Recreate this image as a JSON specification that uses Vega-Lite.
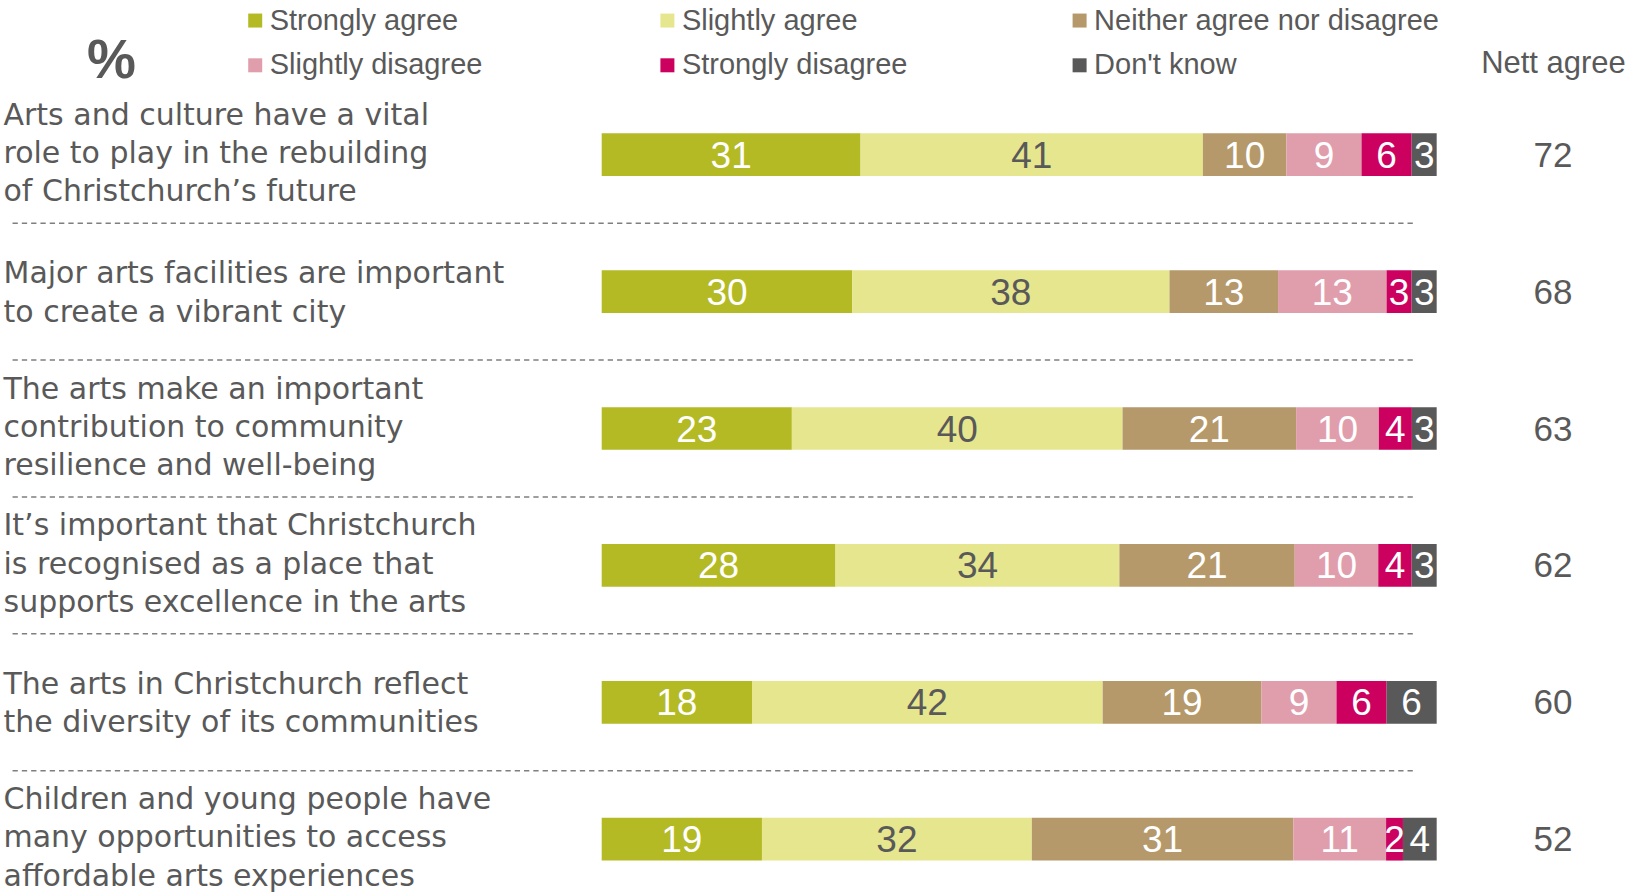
{
  "$schema": "https://vega.github.io/schema/vega-lite/v6.json",
  "width": 835,
  "height": 752.95,
  "autosize": {"type": "none"},
  "padding": {"left": 601.7, "top": 120.5, "right": 192.3, "bottom": 20.5},
  "background": "white",
  "config": {"font": "Liberation Sans", "view": {"stroke": null}, "axis": {"grid": false}},
  "datasets": {
    "bars": [
      {"statement": "Arts and culture have a vital|role to play in the rebuilding|of Christchurch’s future", "response": "Strongly agree", "pct": 31},
      {"statement": "Arts and culture have a vital|role to play in the rebuilding|of Christchurch’s future", "response": "Slightly agree", "pct": 41},
      {"statement": "Arts and culture have a vital|role to play in the rebuilding|of Christchurch’s future", "response": "Neither agree nor disagree", "pct": 10},
      {"statement": "Arts and culture have a vital|role to play in the rebuilding|of Christchurch’s future", "response": "Slightly disagree", "pct": 9},
      {"statement": "Arts and culture have a vital|role to play in the rebuilding|of Christchurch’s future", "response": "Strongly disagree", "pct": 6},
      {"statement": "Arts and culture have a vital|role to play in the rebuilding|of Christchurch’s future", "response": "Don't know", "pct": 3},
      {"statement": "Major arts facilities are important|to create a vibrant city", "response": "Strongly agree", "pct": 30},
      {"statement": "Major arts facilities are important|to create a vibrant city", "response": "Slightly agree", "pct": 38},
      {"statement": "Major arts facilities are important|to create a vibrant city", "response": "Neither agree nor disagree", "pct": 13},
      {"statement": "Major arts facilities are important|to create a vibrant city", "response": "Slightly disagree", "pct": 13},
      {"statement": "Major arts facilities are important|to create a vibrant city", "response": "Strongly disagree", "pct": 3},
      {"statement": "Major arts facilities are important|to create a vibrant city", "response": "Don't know", "pct": 3},
      {"statement": "The arts make an important|contribution to community|resilience and well-being", "response": "Strongly agree", "pct": 23},
      {"statement": "The arts make an important|contribution to community|resilience and well-being", "response": "Slightly agree", "pct": 40},
      {"statement": "The arts make an important|contribution to community|resilience and well-being", "response": "Neither agree nor disagree", "pct": 21},
      {"statement": "The arts make an important|contribution to community|resilience and well-being", "response": "Slightly disagree", "pct": 10},
      {"statement": "The arts make an important|contribution to community|resilience and well-being", "response": "Strongly disagree", "pct": 4},
      {"statement": "The arts make an important|contribution to community|resilience and well-being", "response": "Don't know", "pct": 3},
      {"statement": "It’s important that Christchurch|is recognised as a place that|supports excellence in the arts", "response": "Strongly agree", "pct": 28},
      {"statement": "It’s important that Christchurch|is recognised as a place that|supports excellence in the arts", "response": "Slightly agree", "pct": 34},
      {"statement": "It’s important that Christchurch|is recognised as a place that|supports excellence in the arts", "response": "Neither agree nor disagree", "pct": 21},
      {"statement": "It’s important that Christchurch|is recognised as a place that|supports excellence in the arts", "response": "Slightly disagree", "pct": 10},
      {"statement": "It’s important that Christchurch|is recognised as a place that|supports excellence in the arts", "response": "Strongly disagree", "pct": 4},
      {"statement": "It’s important that Christchurch|is recognised as a place that|supports excellence in the arts", "response": "Don't know", "pct": 3},
      {"statement": "The arts in Christchurch reflect|the diversity of its communities", "response": "Strongly agree", "pct": 18},
      {"statement": "The arts in Christchurch reflect|the diversity of its communities", "response": "Slightly agree", "pct": 42},
      {"statement": "The arts in Christchurch reflect|the diversity of its communities", "response": "Neither agree nor disagree", "pct": 19},
      {"statement": "The arts in Christchurch reflect|the diversity of its communities", "response": "Slightly disagree", "pct": 9},
      {"statement": "The arts in Christchurch reflect|the diversity of its communities", "response": "Strongly disagree", "pct": 6},
      {"statement": "The arts in Christchurch reflect|the diversity of its communities", "response": "Don't know", "pct": 6},
      {"statement": "Children and young people have|many opportunities to access|affordable arts experiences", "response": "Strongly agree", "pct": 19},
      {"statement": "Children and young people have|many opportunities to access|affordable arts experiences", "response": "Slightly agree", "pct": 32},
      {"statement": "Children and young people have|many opportunities to access|affordable arts experiences", "response": "Neither agree nor disagree", "pct": 31},
      {"statement": "Children and young people have|many opportunities to access|affordable arts experiences", "response": "Slightly disagree", "pct": 11},
      {"statement": "Children and young people have|many opportunities to access|affordable arts experiences", "response": "Strongly disagree", "pct": 2},
      {"statement": "Children and young people have|many opportunities to access|affordable arts experiences", "response": "Don't know", "pct": 4}
    ],
    "nett": [
      {"statement": "Arts and culture have a vital|role to play in the rebuilding|of Christchurch’s future", "nett": 72},
      {"statement": "Major arts facilities are important|to create a vibrant city", "nett": 68},
      {"statement": "The arts make an important|contribution to community|resilience and well-being", "nett": 63},
      {"statement": "It’s important that Christchurch|is recognised as a place that|supports excellence in the arts", "nett": 62},
      {"statement": "The arts in Christchurch reflect|the diversity of its communities", "nett": 60},
      {"statement": "Children and young people have|many opportunities to access|affordable arts experiences", "nett": 52}
    ]
  },
  "layer": [
    {
      "data": {"name": "bars"},
      "transform": [{"window": [{"op": "row_number", "as": "k"}]}],
      "mark": {"type": "bar", "height": 42.7},
      "encoding": {
        "y": {
          "field": "statement", "type": "nominal", "sort": null,
          "scale": {"paddingInner": 0.5, "paddingOuter": 0},
          "axis": {
            "orient": "left", "domain": false, "ticks": false, "tickSize": 0,
            "labelExpr": "split(datum.label, '|')",
            "labelAlign": "left", "labelBaseline": "middle", "labelPadding": 598.7,
            "labelFont": "DejaVu Sans", "labelFontSize": 30, "labelColor": "#595959",
            "labelLineHeight": 38.2,
            "labelOffset": {"condition": {"test": "length(split(datum.label, '|')) > 2", "value": -39}, "value": -17.25},
            "labelLimit": 1000, "labelOverlap": false,
            "title": "%", "titleAngle": 0, "titleX": -490.7, "titleY": -42.5,
            "titleAlign": "center", "titleBaseline": "alphabetic",
            "titleFont": "Liberation Sans", "titleFontSize": 55, "titleFontWeight": "bold", "titleColor": "#595959"
          }
        },
        "x": {
          "field": "pct", "type": "quantitative", "stack": "normalize",
          "scale": {"domain": [0, 1], "nice": false},
          "axis": {
            "orient": "top", "labels": false, "ticks": false, "domain": false, "grid": false,
            "title": "Nett agree", "titleX": 951.3, "titleY": -47.8,
            "titleAlign": "center", "titleBaseline": "alphabetic",
            "titleFont": "Liberation Sans", "titleFontSize": 31, "titleFontWeight": "normal", "titleColor": "#595959"
          }
        },
        "color": {
          "field": "response", "type": "nominal",
          "scale": {
            "domain": ["Strongly agree", "Slightly agree", "Neither agree nor disagree", "Slightly disagree", "Strongly disagree", "Don't know"],
            "range": ["#b4ba24", "#e6e68f", "#b5996a", "#e09eac", "#cc005f", "#595959"]
          },
          "legend": {
            "orient": "none", "legendX": -361, "legendY": -114.7, "direction": "horizontal",
            "columns": 3, "gridAlign": "all", "columnPadding": 38.2, "rowPadding": 15,
            "symbolType": "square", "symbolSize": 196, "symbolStrokeWidth": 0,
            "labelFont": "Liberation Sans", "labelFontSize": 29, "labelColor": "#595959",
            "labelOffset": 0, "labelLimit": 600, "title": null, "padding": 0, "offset": 0
          }
        },
        "order": {"field": "k", "type": "quantitative"}
      }
    },
    {
      "data": {"name": "bars"},
      "transform": [{"window": [{"op": "row_number", "as": "k"}]}],
      "mark": {"type": "text", "font": "Liberation Sans", "fontSize": 37, "baseline": "middle", "align": "center", "dy": 2},
      "encoding": {
        "y": {"field": "statement", "type": "nominal", "sort": null},
        "x": {"field": "pct", "type": "quantitative", "stack": "normalize", "bandPosition": 0.5},
        "detail": {"field": "response", "type": "nominal"},
        "order": {"field": "k", "type": "quantitative"},
        "text": {"field": "pct", "type": "quantitative"},
        "color": {"condition": {"test": "datum.response === 'Slightly agree'", "value": "#595959"}, "value": "#ffffff"}
      }
    },
    {
      "data": {"name": "nett"},
      "mark": {"type": "text", "font": "Liberation Sans", "fontSize": 35, "baseline": "middle", "align": "center", "color": "#595959", "dy": 1},
      "encoding": {
        "y": {"field": "statement", "type": "nominal", "sort": null},
        "x": {"datum": 1.1393, "type": "quantitative"},
        "text": {"field": "nett", "type": "quantitative"}
      }
    },
    {
      "data": {"name": "nett"},
      "transform": [{"filter": "indexof(datum.statement, 'Children') < 0"}],
      "mark": {"type": "rule", "color": "#7f7f7f", "strokeWidth": 1.5, "strokeDash": [5.3, 4]},
      "encoding": {
        "y": {"field": "statement", "type": "nominal", "sort": null, "bandPosition": 1.5},
        "x": {"datum": -0.7056, "type": "quantitative"},
        "x2": {"datum": 0.976}
      }
    }
  ]
}
